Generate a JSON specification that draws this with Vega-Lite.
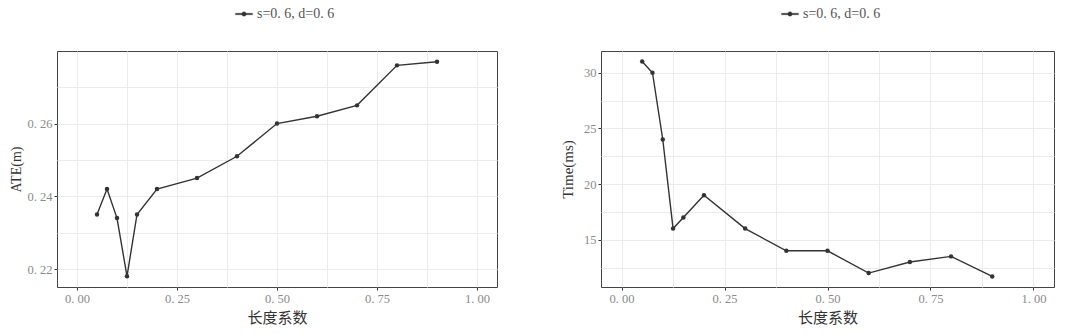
{
  "$schema": "https://vega.github.io/schema/vega-lite/v6.json",
  "background": "white",
  "padding": {"left": 8, "right": 5, "top": 4, "bottom": 5},
  "datasets": {
    "d": [
      {"x": 0.05, "ate": 0.235, "time": 31, "series": "s=0. 6, d=0. 6"},
      {"x": 0.075, "ate": 0.242, "time": 30, "series": "s=0. 6, d=0. 6"},
      {"x": 0.1, "ate": 0.234, "time": 24, "series": "s=0. 6, d=0. 6"},
      {"x": 0.125, "ate": 0.218, "time": 16, "series": "s=0. 6, d=0. 6"},
      {"x": 0.15, "ate": 0.235, "time": 17, "series": "s=0. 6, d=0. 6"},
      {"x": 0.2, "ate": 0.242, "time": 19, "series": "s=0. 6, d=0. 6"},
      {"x": 0.3, "ate": 0.245, "time": 16, "series": "s=0. 6, d=0. 6"},
      {"x": 0.4, "ate": 0.251, "time": 14, "series": "s=0. 6, d=0. 6"},
      {"x": 0.5, "ate": 0.26, "time": 14, "series": "s=0. 6, d=0. 6"},
      {"x": 0.6, "ate": 0.262, "time": 12, "series": "s=0. 6, d=0. 6"},
      {"x": 0.7, "ate": 0.265, "time": 13, "series": "s=0. 6, d=0. 6"},
      {"x": 0.8, "ate": 0.276, "time": 13.5, "series": "s=0. 6, d=0. 6"},
      {"x": 0.9, "ate": 0.277, "time": 11.7, "series": "s=0. 6, d=0. 6"}
    ]
  },
  "config": {
    "view": {"stroke": "#444", "strokeWidth": 1},
    "font": "Liberation Serif",
    "axis": {
      "domain": false,
      "gridColor": "#ebebeb",
      "gridWidth": 1,
      "tickColor": "#333",
      "tickSize": 3,
      "labelColor": "#8a8a8a",
      "labelFont": "Liberation Serif",
      "labelFontSize": 12.5,
      "titleColor": "#333",
      "titleFontWeight": "normal"
    },
    "legend": {
      "labelFont": "Liberation Serif",
      "labelFontSize": 14,
      "labelColor": "#555"
    }
  },
  "resolve": {"scale": {"color": "independent"}, "legend": {"color": "independent"}},
  "spacing": 62,
  "hconcat": [
    {
      "width": 440,
      "height": 236,
      "data": {"name": "d"},
      "layer": [
        {
          "mark": {"type": "point", "opacity": 0},
          "encoding": {
            "x": {"field": "x", "type": "quantitative", "scale": {"domain": [-0.05, 1.05], "nice": false, "zero": false},
              "axis": {"orient": "top", "values": [0.125, 0.375, 0.625, 0.875], "labels": false, "ticks": false, "title": null, "grid": true}},
            "y": {"field": "ate", "type": "quantitative", "scale": {"domain": [0.21505, 0.27995], "nice": false, "zero": false},
              "axis": {"orient": "right", "values": [0.23, 0.25, 0.27], "labels": false, "ticks": false, "title": null, "grid": true}}
          }
        },
        {
          "mark": {"type": "line", "strokeWidth": 1.4},
          "encoding": {
            "x": {"field": "x", "type": "quantitative",
              "axis": {"orient": "bottom", "values": [0, 0.25, 0.5, 0.75, 1], "labelExpr": "replace(format(datum.value, '.2f'), '.', '. ')", "title": "长度系数", "titleFont": "Noto Sans CJK SC", "titleFontSize": 15, "titlePadding": 6, "grid": true}},
            "y": {"field": "ate", "type": "quantitative",
              "axis": {"orient": "left", "values": [0.22, 0.24, 0.26], "labelExpr": "replace(format(datum.value, '.2f'), '.', '. ')", "title": "ATE(m)", "titleFontSize": 14, "titlePadding": 4, "grid": true}},
            "color": {"field": "series", "type": "nominal", "scale": {"range": ["#333333"]},
              "legend": {"orient": "none", "legendX": 178, "legendY": -46, "title": null, "direction": "horizontal",
                "symbolType": "M-1,-0.09L1,-0.09L1,0.09L-1,0.09Z M-0.27,0A0.27,0.27 0 1,1 0.27,0A0.27,0.27 0 1,1 -0.27,0Z",
                "symbolSize": 289, "symbolStrokeWidth": 0.3,
                "encode": {"symbols": {"update": {"fill": {"value": "#333"}, "stroke": {"value": "#333"}}}}}}
          }
        },
        {
          "mark": {"type": "point", "filled": true, "color": "#333", "size": 20, "opacity": 1},
          "encoding": {
            "x": {"field": "x", "type": "quantitative", "axis": null},
            "y": {"field": "ate", "type": "quantitative", "axis": null}
          }
        }
      ],
      "resolve": {"axis": {"x": "independent", "y": "independent"}}
    },
    {
      "width": 453,
      "height": 236,
      "data": {"name": "d"},
      "layer": [
        {
          "mark": {"type": "point", "opacity": 0},
          "encoding": {
            "x": {"field": "x", "type": "quantitative", "scale": {"domain": [-0.05, 1.05], "nice": false, "zero": false},
              "axis": {"orient": "top", "values": [0.125, 0.375, 0.625, 0.875], "labels": false, "ticks": false, "title": null, "grid": true}},
            "y": {"field": "time", "type": "quantitative", "scale": {"domain": [10.75, 31.95], "nice": false, "zero": false},
              "axis": {"orient": "right", "values": [12.5, 17.5, 22.5, 27.5], "labels": false, "ticks": false, "title": null, "grid": true}}
          }
        },
        {
          "mark": {"type": "line", "strokeWidth": 1.4},
          "encoding": {
            "x": {"field": "x", "type": "quantitative",
              "axis": {"orient": "bottom", "values": [0, 0.25, 0.5, 0.75, 1], "labelExpr": "replace(format(datum.value, '.2f'), '.', '. ')", "title": "长度系数", "titleFont": "Noto Sans CJK SC", "titleFontSize": 15, "titlePadding": 6, "grid": true}},
            "y": {"field": "time", "type": "quantitative",
              "axis": {"orient": "left", "values": [15, 20, 25, 30], "format": "d", "title": "Time(ms)", "titleFontSize": 15, "titlePadding": 8, "grid": true}},
            "color": {"field": "series", "type": "nominal", "scale": {"range": ["#333333"]},
              "legend": {"orient": "none", "legendX": 180, "legendY": -46, "title": null, "direction": "horizontal",
                "symbolType": "M-1,-0.09L1,-0.09L1,0.09L-1,0.09Z M-0.27,0A0.27,0.27 0 1,1 0.27,0A0.27,0.27 0 1,1 -0.27,0Z",
                "symbolSize": 289, "symbolStrokeWidth": 0.3,
                "encode": {"symbols": {"update": {"fill": {"value": "#333"}, "stroke": {"value": "#333"}}}}}}
          }
        },
        {
          "mark": {"type": "point", "filled": true, "color": "#333", "size": 20, "opacity": 1},
          "encoding": {
            "x": {"field": "x", "type": "quantitative", "axis": null},
            "y": {"field": "time", "type": "quantitative", "axis": null}
          }
        }
      ],
      "resolve": {"axis": {"x": "independent", "y": "independent"}}
    }
  ]
}
